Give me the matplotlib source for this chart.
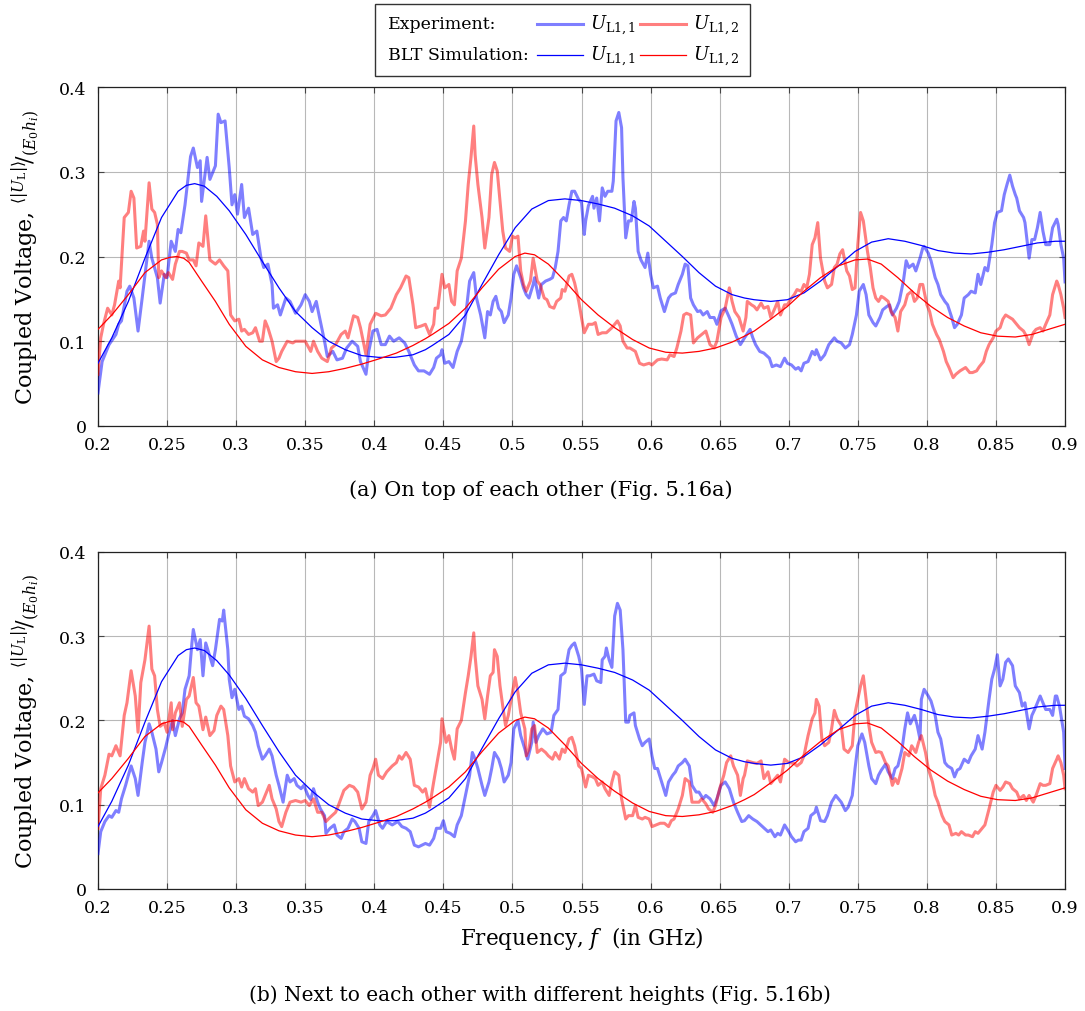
import numpy as np
import matplotlib
matplotlib.use("Agg")
import matplotlib.pyplot as plt
from matplotlib.lines import Line2D
from matplotlib.patches import Rectangle

plt.rcParams['font.family'] = ['DejaVu Serif']
plt.rcParams['mathtext.fontset'] = 'dejavuserif'

# ---- data (frequency in GHz, normalised voltage) ----
# (a) experiment U_L1,1 (blue)
top_exp1 = [
    (0.200, 0.039), (0.203, 0.076), (0.208, 0.096), (0.213, 0.108), (0.215, 0.120), (0.217, 0.124),
    (0.221, 0.159), (0.223, 0.165), (0.226, 0.151), (0.229, 0.112), (0.232, 0.151), (0.237, 0.218),
    (0.239, 0.198), (0.243, 0.175), (0.245, 0.145), (0.248, 0.179), (0.250, 0.175), (0.253, 0.218),
    (0.256, 0.206), (0.258, 0.232), (0.260, 0.228), (0.263, 0.261), (0.267, 0.318), (0.269, 0.328),
    (0.272, 0.305), (0.274, 0.313), (0.275, 0.265), (0.279, 0.317), (0.281, 0.291), (0.285, 0.307),
    (0.287, 0.368), (0.289, 0.358), (0.292, 0.360), (0.295, 0.305), (0.297, 0.261), (0.299, 0.273),
    (0.301, 0.250), (0.304, 0.285), (0.306, 0.246), (0.309, 0.257), (0.312, 0.226), (0.315, 0.230),
    (0.318, 0.198), (0.320, 0.187), (0.323, 0.191), (0.326, 0.167), (0.327, 0.139), (0.330, 0.143),
    (0.332, 0.131), (0.336, 0.151), (0.339, 0.147), (0.343, 0.133), (0.347, 0.143), (0.350, 0.155),
    (0.353, 0.147), (0.355, 0.135), (0.358, 0.147), (0.360, 0.131), (0.364, 0.100), (0.366, 0.082),
    (0.370, 0.088), (0.373, 0.078), (0.377, 0.080), (0.380, 0.092), (0.384, 0.100), (0.388, 0.094),
    (0.390, 0.076), (0.394, 0.061), (0.396, 0.088), (0.399, 0.112), (0.402, 0.114), (0.405, 0.096),
    (0.408, 0.096), (0.411, 0.106), (0.414, 0.100), (0.418, 0.104), (0.422, 0.098), (0.425, 0.088),
    (0.429, 0.072), (0.432, 0.065), (0.436, 0.065),
    (0.440, 0.061), (0.443, 0.069), (0.445, 0.080), (0.448, 0.084), (0.449, 0.090), (0.451, 0.074),
    (0.454, 0.076), (0.457, 0.069), (0.460, 0.088), (0.463, 0.100), (0.466, 0.128), (0.469, 0.171),
    (0.472, 0.181), (0.474, 0.151), (0.477, 0.131), (0.480, 0.104), (0.482, 0.135), (0.484, 0.131),
    (0.486, 0.147), (0.488, 0.153), (0.490, 0.139), (0.492, 0.135), (0.494, 0.122), (0.497, 0.131),
    (0.499, 0.151), (0.501, 0.179), (0.503, 0.189), (0.506, 0.175), (0.508, 0.163), (0.510, 0.155),
    (0.512, 0.151), (0.515, 0.167), (0.516, 0.175), (0.519, 0.151), (0.521, 0.167), (0.524, 0.171),
    (0.527, 0.173), (0.529, 0.175), (0.531, 0.187), (0.533, 0.206), (0.535, 0.242), (0.537, 0.246),
    (0.539, 0.242), (0.541, 0.261), (0.543, 0.277), (0.545, 0.277), (0.548, 0.267), (0.550, 0.264),
    (0.552, 0.226), (0.553, 0.242), (0.555, 0.260), (0.558, 0.271), (0.559, 0.257), (0.561, 0.269),
    (0.563, 0.242), (0.565, 0.281), (0.567, 0.271), (0.569, 0.277), (0.572, 0.277), (0.573, 0.289),
    (0.575, 0.360), (0.577, 0.370), (0.579, 0.352), (0.580, 0.293), (0.582, 0.222), (0.584, 0.242),
    (0.586, 0.242), (0.588, 0.265), (0.589, 0.257), (0.591, 0.206), (0.593, 0.196), (0.596, 0.187),
    (0.598, 0.204), (0.600, 0.179), (0.602, 0.163), (0.605, 0.165), (0.607, 0.151), (0.610, 0.135),
    (0.613, 0.151), (0.615, 0.155), (0.618, 0.157), (0.620, 0.167), (0.623, 0.179), (0.625, 0.191),
    (0.627, 0.189), (0.629, 0.151), (0.631, 0.143), (0.634, 0.135), (0.636, 0.136), (0.638, 0.131),
    (0.641, 0.135), (0.643, 0.128), (0.646, 0.128), (0.648, 0.120), (0.651, 0.136), (0.654, 0.139),
    (0.657, 0.128), (0.659, 0.120), (0.662, 0.106), (0.665, 0.096), (0.668, 0.104),
    (0.672, 0.114), (0.674, 0.104), (0.676, 0.096), (0.679, 0.088), (0.682, 0.086), (0.686, 0.080),
    (0.688, 0.070), (0.691, 0.072), (0.694, 0.070), (0.697, 0.080), (0.699, 0.074), (0.702, 0.072),
    (0.705, 0.067), (0.707, 0.069), (0.709, 0.065), (0.711, 0.074), (0.714, 0.076), (0.717, 0.088),
    (0.719, 0.084), (0.720, 0.090), (0.723, 0.078), (0.726, 0.084), (0.729, 0.096), (0.733, 0.104),
    (0.735, 0.100), (0.738, 0.098), (0.741, 0.092), (0.744, 0.096), (0.746, 0.108), (0.749, 0.131),
    (0.751, 0.159), (0.754, 0.167), (0.756, 0.155), (0.758, 0.131), (0.761, 0.122), (0.763, 0.118),
    (0.766, 0.128), (0.768, 0.137), (0.771, 0.141), (0.773, 0.143), (0.775, 0.131), (0.778, 0.139),
    (0.780, 0.147), (0.783, 0.171), (0.785, 0.195), (0.787, 0.187), (0.790, 0.191), (0.792, 0.183),
    (0.795, 0.198), (0.797, 0.210), (0.798, 0.212), (0.801, 0.204), (0.803, 0.195), (0.806, 0.175),
    (0.808, 0.167), (0.810, 0.155), (0.813, 0.147), (0.815, 0.143), (0.818, 0.128), (0.820, 0.116),
    (0.822, 0.120), (0.825, 0.131), (0.827, 0.151), (0.830, 0.155), (0.832, 0.159), (0.835, 0.157),
    (0.837, 0.179), (0.839, 0.167), (0.842, 0.187), (0.844, 0.183), (0.847, 0.214), (0.849, 0.240),
    (0.851, 0.252), (0.854, 0.254), (0.856, 0.273), (0.858, 0.285), (0.860, 0.296), (0.862, 0.283),
    (0.864, 0.273), (0.865, 0.269), (0.867, 0.254), (0.870, 0.246), (0.871, 0.240), (0.874, 0.198),
    (0.876, 0.220), (0.878, 0.220), (0.880, 0.234), (0.882, 0.252), (0.884, 0.230), (0.886, 0.214),
    (0.889, 0.214), (0.891, 0.234), (0.894, 0.244), (0.895, 0.238), (0.897, 0.214), (0.899, 0.198),
    (0.900, 0.170),
]

# (a) experiment U_L1,2 (red)
top_exp2 = [
    (0.200, 0.061), (0.202, 0.104), (0.204, 0.120), (0.207, 0.139), (0.210, 0.131), (0.212, 0.143),
    (0.215, 0.171), (0.216, 0.163), (0.219, 0.246), (0.222, 0.252), (0.224, 0.277), (0.226, 0.269),
    (0.228, 0.210), (0.231, 0.212), (0.233, 0.230), (0.234, 0.218), (0.237, 0.287), (0.239, 0.256),
    (0.241, 0.252), (0.243, 0.238), (0.244, 0.175), (0.246, 0.183), (0.249, 0.175), (0.251, 0.181),
    (0.254, 0.173), (0.256, 0.191), (0.259, 0.206), (0.261, 0.206), (0.264, 0.204), (0.266, 0.196),
    (0.269, 0.196), (0.271, 0.189), (0.273, 0.216), (0.276, 0.212), (0.278, 0.248), (0.281, 0.196),
    (0.285, 0.191), (0.288, 0.196), (0.291, 0.189), (0.294, 0.183), (0.296, 0.131), (0.299, 0.124),
    (0.302, 0.126), (0.304, 0.112), (0.306, 0.114), (0.309, 0.108), (0.312, 0.110), (0.314, 0.116),
    (0.317, 0.100), (0.319, 0.100), (0.321, 0.124), (0.323, 0.116), (0.326, 0.100), (0.329, 0.076),
    (0.331, 0.080), (0.333, 0.088), (0.337, 0.100), (0.341, 0.098), (0.343, 0.100), (0.347, 0.100),
    (0.350, 0.100), (0.354, 0.088), (0.356, 0.100), (0.359, 0.088), (0.362, 0.080), (0.366, 0.076),
    (0.369, 0.092), (0.372, 0.096), (0.376, 0.108), (0.379, 0.112), (0.381, 0.104), (0.385, 0.130),
    (0.388, 0.128), (0.390, 0.116), (0.394, 0.084), (0.397, 0.120), (0.401, 0.133), (0.405, 0.130),
    (0.408, 0.131), (0.412, 0.139), (0.416, 0.155), (0.419, 0.163), (0.423, 0.177), (0.425, 0.175),
    (0.428, 0.143), (0.430, 0.116), (0.434, 0.118), (0.437, 0.120),
    (0.440, 0.108), (0.443, 0.120), (0.444, 0.139), (0.446, 0.139), (0.449, 0.179), (0.451, 0.163),
    (0.454, 0.167), (0.456, 0.147), (0.458, 0.143), (0.460, 0.183), (0.463, 0.198), (0.466, 0.242),
    (0.468, 0.285), (0.470, 0.317), (0.472, 0.354), (0.473, 0.320), (0.475, 0.285), (0.478, 0.246),
    (0.480, 0.210), (0.483, 0.246), (0.485, 0.297), (0.487, 0.311), (0.489, 0.301), (0.491, 0.265),
    (0.493, 0.230), (0.495, 0.210), (0.498, 0.206), (0.500, 0.224), (0.502, 0.222), (0.504, 0.224),
    (0.506, 0.183), (0.508, 0.167), (0.510, 0.159), (0.513, 0.171), (0.515, 0.198), (0.518, 0.171),
    (0.520, 0.167), (0.523, 0.151), (0.525, 0.149), (0.527, 0.141), (0.530, 0.139), (0.532, 0.147),
    (0.535, 0.151), (0.536, 0.161), (0.538, 0.159), (0.541, 0.177), (0.543, 0.179), (0.545, 0.169),
    (0.548, 0.147), (0.550, 0.128), (0.552, 0.110), (0.555, 0.120), (0.558, 0.120), (0.560, 0.122),
    (0.562, 0.108), (0.565, 0.110), (0.568, 0.110), (0.572, 0.116), (0.576, 0.124), (0.578, 0.118),
    (0.580, 0.100), (0.583, 0.092), (0.585, 0.092), (0.589, 0.088), (0.592, 0.074), (0.595, 0.072),
    (0.599, 0.074), (0.601, 0.072), (0.605, 0.078), (0.608, 0.079), (0.612, 0.078), (0.614, 0.084),
    (0.617, 0.082), (0.619, 0.092), (0.622, 0.112), (0.624, 0.131), (0.626, 0.133), (0.629, 0.131),
    (0.631, 0.098), (0.634, 0.104), (0.637, 0.108), (0.640, 0.112), (0.643, 0.096), (0.646, 0.092),
    (0.648, 0.100), (0.651, 0.128), (0.654, 0.139), (0.657, 0.163), (0.659, 0.147), (0.661, 0.135),
    (0.664, 0.128), (0.667, 0.112), (0.669, 0.128),
    (0.670, 0.147), (0.673, 0.143), (0.675, 0.141), (0.677, 0.137), (0.680, 0.145), (0.682, 0.139),
    (0.685, 0.141), (0.687, 0.128), (0.690, 0.139), (0.692, 0.147), (0.694, 0.131), (0.697, 0.143),
    (0.699, 0.143), (0.702, 0.151), (0.704, 0.155), (0.706, 0.161), (0.709, 0.159), (0.711, 0.167),
    (0.713, 0.163), (0.715, 0.179), (0.717, 0.214), (0.719, 0.222), (0.721, 0.240), (0.723, 0.198),
    (0.726, 0.171), (0.728, 0.163), (0.731, 0.167), (0.733, 0.187), (0.735, 0.191), (0.737, 0.203),
    (0.739, 0.208), (0.742, 0.183), (0.744, 0.177), (0.746, 0.161), (0.748, 0.163), (0.750, 0.214),
    (0.752, 0.252), (0.754, 0.242), (0.757, 0.206), (0.759, 0.187), (0.761, 0.163), (0.763, 0.151),
    (0.765, 0.147), (0.767, 0.153), (0.769, 0.151), (0.772, 0.147), (0.774, 0.135), (0.777, 0.128),
    (0.779, 0.112), (0.781, 0.135), (0.784, 0.143), (0.786, 0.155), (0.789, 0.159), (0.791, 0.147),
    (0.793, 0.151), (0.795, 0.167), (0.797, 0.167), (0.800, 0.143), (0.802, 0.135), (0.804, 0.120),
    (0.807, 0.108), (0.809, 0.102), (0.812, 0.088), (0.814, 0.076), (0.816, 0.069), (0.819, 0.057),
    (0.821, 0.061), (0.824, 0.065), (0.826, 0.067), (0.828, 0.069), (0.831, 0.063), (0.833, 0.063),
    (0.836, 0.065), (0.838, 0.070), (0.841, 0.076), (0.843, 0.088), (0.845, 0.096), (0.848, 0.104),
    (0.850, 0.112), (0.853, 0.116), (0.855, 0.126), (0.857, 0.131), (0.860, 0.128), (0.862, 0.126),
    (0.865, 0.120), (0.867, 0.116), (0.870, 0.112), (0.872, 0.106), (0.874, 0.096), (0.877, 0.110),
    (0.879, 0.114), (0.882, 0.116), (0.884, 0.112), (0.886, 0.120), (0.889, 0.131), (0.891, 0.155),
    (0.894, 0.171), (0.895, 0.167), (0.897, 0.155), (0.899, 0.139), (0.900, 0.128),
]

# (b) experiment U_L1,1 (blue)
bot_exp1 = [
    (0.200, 0.042), (0.202, 0.068), (0.205, 0.080), (0.208, 0.087), (0.210, 0.085), (0.213, 0.093),
    (0.215, 0.091), (0.217, 0.107), (0.220, 0.123), (0.222, 0.135), (0.224, 0.146), (0.227, 0.131),
    (0.229, 0.111), (0.232, 0.150), (0.234, 0.174), (0.237, 0.196), (0.239, 0.186), (0.242, 0.166),
    (0.244, 0.139), (0.246, 0.150), (0.249, 0.168), (0.251, 0.182), (0.254, 0.200), (0.256, 0.182),
    (0.259, 0.202), (0.261, 0.209), (0.263, 0.237), (0.266, 0.253), (0.268, 0.292), (0.269, 0.308),
    (0.272, 0.284), (0.274, 0.296), (0.276, 0.253), (0.278, 0.292), (0.281, 0.276), (0.283, 0.265),
    (0.285, 0.284), (0.288, 0.320), (0.290, 0.318), (0.291, 0.331), (0.294, 0.284), (0.295, 0.249),
    (0.297, 0.227), (0.299, 0.237), (0.302, 0.213), (0.304, 0.217), (0.306, 0.205), (0.309, 0.202),
    (0.312, 0.194), (0.314, 0.186), (0.316, 0.170), (0.319, 0.154), (0.321, 0.158), (0.324, 0.166),
    (0.326, 0.158), (0.329, 0.135), (0.331, 0.123), (0.334, 0.103), (0.337, 0.135), (0.339, 0.127),
    (0.342, 0.131), (0.344, 0.123), (0.347, 0.119), (0.349, 0.123), (0.352, 0.111), (0.354, 0.106),
    (0.356, 0.119), (0.359, 0.103), (0.361, 0.095), (0.364, 0.087), (0.365, 0.066), (0.368, 0.072),
    (0.371, 0.076), (0.373, 0.064), (0.376, 0.060), (0.378, 0.068), (0.381, 0.072), (0.384, 0.083),
    (0.386, 0.080), (0.389, 0.072), (0.391, 0.056), (0.394, 0.054), (0.396, 0.080), (0.399, 0.087),
    (0.401, 0.093), (0.404, 0.076), (0.406, 0.072), (0.409, 0.080), (0.413, 0.076), (0.417, 0.080),
    (0.420, 0.074), (0.423, 0.072), (0.426, 0.068), (0.429, 0.052), (0.432, 0.050), (0.437, 0.054),
    (0.440, 0.052), (0.443, 0.060), (0.445, 0.072), (0.448, 0.072), (0.450, 0.081), (0.452, 0.068),
    (0.455, 0.066), (0.458, 0.062), (0.460, 0.076), (0.463, 0.087), (0.466, 0.111), (0.469, 0.135),
    (0.471, 0.162), (0.473, 0.154), (0.475, 0.143), (0.478, 0.123), (0.480, 0.111), (0.483, 0.127),
    (0.485, 0.143), (0.487, 0.162), (0.490, 0.154), (0.492, 0.143), (0.494, 0.127), (0.497, 0.135),
    (0.499, 0.150), (0.501, 0.190), (0.504, 0.200), (0.506, 0.182), (0.509, 0.166), (0.511, 0.154),
    (0.514, 0.174), (0.515, 0.198), (0.517, 0.174), (0.519, 0.182), (0.522, 0.190), (0.525, 0.184),
    (0.528, 0.186), (0.530, 0.206), (0.533, 0.213), (0.535, 0.253), (0.538, 0.257), (0.541, 0.284),
    (0.543, 0.289), (0.545, 0.292), (0.548, 0.276), (0.550, 0.261), (0.552, 0.219), (0.554, 0.253),
    (0.556, 0.253), (0.559, 0.255), (0.561, 0.247), (0.564, 0.245), (0.565, 0.272), (0.567, 0.276),
    (0.568, 0.286), (0.570, 0.272), (0.572, 0.263), (0.574, 0.324), (0.576, 0.339), (0.578, 0.331),
    (0.580, 0.284), (0.582, 0.198), (0.584, 0.198), (0.585, 0.206), (0.588, 0.209), (0.589, 0.194),
    (0.592, 0.178), (0.594, 0.170), (0.596, 0.174), (0.599, 0.178), (0.601, 0.158), (0.603, 0.143),
    (0.605, 0.143), (0.608, 0.127), (0.611, 0.111), (0.613, 0.127), (0.616, 0.135), (0.618, 0.139),
    (0.620, 0.146), (0.623, 0.150), (0.625, 0.154), (0.628, 0.146), (0.630, 0.123), (0.633, 0.115),
    (0.635, 0.115), (0.638, 0.107), (0.640, 0.111), (0.643, 0.107), (0.646, 0.099), (0.648, 0.107),
    (0.651, 0.123), (0.654, 0.127), (0.657, 0.119), (0.660, 0.103), (0.663, 0.091), (0.666, 0.080),
    (0.668, 0.081), (0.671, 0.087), (0.674, 0.083), (0.677, 0.080), (0.681, 0.074), (0.685, 0.068),
    (0.687, 0.070), (0.690, 0.062), (0.692, 0.066), (0.694, 0.064), (0.697, 0.076), (0.700, 0.068),
    (0.702, 0.062), (0.705, 0.056), (0.707, 0.058), (0.709, 0.058), (0.711, 0.068), (0.714, 0.072),
    (0.716, 0.087), (0.719, 0.091), (0.720, 0.097), (0.723, 0.081), (0.726, 0.080), (0.728, 0.087),
    (0.731, 0.103), (0.734, 0.111), (0.735, 0.109), (0.738, 0.103), (0.741, 0.093), (0.743, 0.097),
    (0.746, 0.111), (0.748, 0.143), (0.750, 0.170), (0.753, 0.184), (0.755, 0.174), (0.758, 0.146),
    (0.760, 0.131), (0.763, 0.125), (0.765, 0.135), (0.767, 0.141), (0.770, 0.148), (0.772, 0.139),
    (0.775, 0.131), (0.777, 0.143), (0.779, 0.146), (0.782, 0.166), (0.784, 0.190), (0.786, 0.209),
    (0.788, 0.196), (0.791, 0.206), (0.793, 0.194), (0.795, 0.178), (0.796, 0.225), (0.798, 0.237),
    (0.801, 0.229), (0.803, 0.223), (0.806, 0.206), (0.808, 0.186), (0.810, 0.178), (0.813, 0.150),
    (0.815, 0.146), (0.818, 0.143), (0.820, 0.133), (0.822, 0.141), (0.824, 0.143), (0.827, 0.154),
    (0.830, 0.150), (0.832, 0.158), (0.835, 0.166), (0.837, 0.182), (0.840, 0.166), (0.842, 0.186),
    (0.845, 0.225), (0.847, 0.249), (0.849, 0.261), (0.851, 0.278), (0.853, 0.241), (0.855, 0.249),
    (0.857, 0.269), (0.859, 0.273), (0.862, 0.265), (0.864, 0.241), (0.867, 0.233), (0.869, 0.217),
    (0.871, 0.221), (0.874, 0.190), (0.876, 0.206), (0.878, 0.213), (0.882, 0.229), (0.884, 0.221),
    (0.886, 0.213), (0.889, 0.213), (0.891, 0.206), (0.893, 0.229), (0.894, 0.229), (0.896, 0.217),
    (0.899, 0.186), (0.900, 0.143),
]

# (b) experiment U_L1,2 (red)
bot_exp2 = [
    (0.200, 0.072), (0.202, 0.119), (0.205, 0.135), (0.208, 0.160), (0.210, 0.158), (0.213, 0.170),
    (0.216, 0.158), (0.219, 0.206), (0.221, 0.221), (0.224, 0.259), (0.227, 0.229), (0.229, 0.186),
    (0.231, 0.245), (0.234, 0.272), (0.237, 0.312), (0.239, 0.261), (0.241, 0.253), (0.243, 0.213),
    (0.245, 0.193), (0.248, 0.197), (0.250, 0.186), (0.253, 0.221), (0.254, 0.189), (0.256, 0.209),
    (0.259, 0.221), (0.261, 0.193), (0.264, 0.225), (0.266, 0.229), (0.269, 0.251), (0.271, 0.221),
    (0.273, 0.217), (0.276, 0.189), (0.278, 0.204), (0.281, 0.182), (0.284, 0.188), (0.286, 0.206),
    (0.289, 0.217), (0.291, 0.213), (0.294, 0.182), (0.296, 0.146), (0.299, 0.127), (0.302, 0.131),
    (0.304, 0.121), (0.306, 0.131), (0.309, 0.119), (0.312, 0.115), (0.314, 0.119), (0.316, 0.099),
    (0.319, 0.103), (0.321, 0.111), (0.324, 0.123), (0.326, 0.107), (0.329, 0.095), (0.331, 0.080),
    (0.333, 0.074), (0.336, 0.091), (0.339, 0.103), (0.343, 0.105), (0.347, 0.103), (0.350, 0.105),
    (0.353, 0.099), (0.356, 0.107), (0.359, 0.091), (0.362, 0.091), (0.365, 0.080), (0.368, 0.085),
    (0.372, 0.091), (0.374, 0.099), (0.378, 0.117), (0.382, 0.123), (0.385, 0.121), (0.388, 0.115),
    (0.391, 0.095), (0.394, 0.103), (0.397, 0.135), (0.399, 0.143), (0.401, 0.154), (0.403, 0.135),
    (0.406, 0.131), (0.409, 0.139), (0.413, 0.146), (0.416, 0.150), (0.418, 0.158), (0.420, 0.154),
    (0.423, 0.162), (0.426, 0.154), (0.429, 0.123), (0.432, 0.121), (0.435, 0.115), (0.437, 0.119),
    (0.440, 0.097), (0.443, 0.127), (0.445, 0.146), (0.448, 0.174), (0.449, 0.202), (0.452, 0.174),
    (0.454, 0.182), (0.456, 0.166), (0.458, 0.154), (0.460, 0.190), (0.463, 0.200), (0.466, 0.233),
    (0.468, 0.253), (0.470, 0.276), (0.472, 0.304), (0.473, 0.276), (0.475, 0.241), (0.478, 0.225),
    (0.480, 0.202), (0.482, 0.229), (0.484, 0.253), (0.486, 0.257), (0.487, 0.284), (0.489, 0.276),
    (0.491, 0.241), (0.493, 0.217), (0.495, 0.194), (0.497, 0.206), (0.500, 0.233), (0.502, 0.251),
    (0.504, 0.233), (0.506, 0.209), (0.509, 0.190), (0.510, 0.158), (0.512, 0.166), (0.514, 0.190),
    (0.516, 0.194), (0.518, 0.162), (0.521, 0.166), (0.524, 0.162), (0.526, 0.158), (0.529, 0.154),
    (0.531, 0.162), (0.534, 0.154), (0.536, 0.166), (0.538, 0.162), (0.541, 0.178), (0.543, 0.180),
    (0.545, 0.170), (0.548, 0.146), (0.550, 0.143), (0.553, 0.121), (0.555, 0.135), (0.558, 0.133),
    (0.560, 0.131), (0.562, 0.123), (0.565, 0.127), (0.567, 0.119), (0.570, 0.111), (0.572, 0.127),
    (0.574, 0.139), (0.577, 0.135), (0.579, 0.107), (0.582, 0.083), (0.584, 0.087), (0.587, 0.087),
    (0.589, 0.099), (0.591, 0.085), (0.594, 0.083), (0.596, 0.085), (0.599, 0.083), (0.601, 0.074),
    (0.604, 0.076), (0.607, 0.078), (0.610, 0.078), (0.613, 0.074), (0.615, 0.081), (0.617, 0.083),
    (0.620, 0.095), (0.623, 0.111), (0.625, 0.131), (0.628, 0.127), (0.630, 0.103), (0.632, 0.103),
    (0.635, 0.103), (0.637, 0.107), (0.640, 0.101), (0.642, 0.095), (0.645, 0.091), (0.647, 0.099),
    (0.650, 0.119), (0.653, 0.135), (0.655, 0.150), (0.658, 0.158), (0.660, 0.146), (0.663, 0.135),
    (0.665, 0.111), (0.667, 0.131),
    (0.668, 0.135), (0.670, 0.152), (0.674, 0.150), (0.677, 0.149), (0.680, 0.152), (0.682, 0.131),
    (0.685, 0.139), (0.687, 0.125), (0.690, 0.131), (0.692, 0.135), (0.694, 0.127), (0.697, 0.154),
    (0.700, 0.150), (0.704, 0.149), (0.706, 0.146), (0.709, 0.150), (0.711, 0.158), (0.714, 0.182),
    (0.717, 0.202), (0.719, 0.209), (0.720, 0.225), (0.722, 0.217), (0.724, 0.178), (0.726, 0.170),
    (0.729, 0.174), (0.731, 0.190), (0.733, 0.212), (0.735, 0.202), (0.738, 0.194), (0.740, 0.166),
    (0.743, 0.162), (0.746, 0.170), (0.748, 0.209), (0.750, 0.225), (0.752, 0.241), (0.754, 0.253),
    (0.756, 0.225), (0.758, 0.194), (0.760, 0.174), (0.763, 0.162), (0.765, 0.163), (0.767, 0.162),
    (0.770, 0.150), (0.772, 0.146), (0.775, 0.123), (0.777, 0.131), (0.779, 0.125), (0.782, 0.143),
    (0.784, 0.162), (0.787, 0.158), (0.789, 0.170), (0.792, 0.162), (0.794, 0.174), (0.796, 0.182),
    (0.799, 0.162), (0.801, 0.143), (0.804, 0.127), (0.806, 0.111), (0.808, 0.103), (0.811, 0.087),
    (0.813, 0.080), (0.816, 0.076), (0.818, 0.064), (0.821, 0.066), (0.823, 0.064), (0.825, 0.068),
    (0.828, 0.064), (0.830, 0.064), (0.833, 0.062), (0.835, 0.068), (0.837, 0.066), (0.840, 0.072),
    (0.842, 0.076), (0.845, 0.095), (0.848, 0.115), (0.850, 0.123), (0.853, 0.117), (0.855, 0.121),
    (0.857, 0.127), (0.860, 0.125), (0.862, 0.119), (0.865, 0.115), (0.867, 0.107), (0.870, 0.111),
    (0.872, 0.105), (0.874, 0.111), (0.877, 0.103), (0.879, 0.111), (0.882, 0.125), (0.884, 0.123),
    (0.886, 0.123), (0.889, 0.125), (0.891, 0.143), (0.894, 0.154), (0.895, 0.158), (0.897, 0.150),
    (0.899, 0.135), (0.900, 0.119),
]

# BLT simulation (same in both panels)
sim1 = [
    (0.200, 0.074), (0.210, 0.104), (0.222, 0.147), (0.234, 0.198), (0.246, 0.246), (0.258, 0.277),
    (0.264, 0.284), (0.270, 0.286), (0.277, 0.283), (0.286, 0.271), (0.295, 0.254), (0.307, 0.226),
    (0.319, 0.194), (0.331, 0.163), (0.343, 0.135), (0.355, 0.116), (0.367, 0.100), (0.379, 0.090),
    (0.391, 0.083), (0.403, 0.081), (0.415, 0.081), (0.428, 0.084), (0.437, 0.090), (0.442, 0.095),
    (0.454, 0.108), (0.466, 0.131), (0.478, 0.167), (0.490, 0.202), (0.502, 0.234), (0.514, 0.256),
    (0.526, 0.266), (0.538, 0.268), (0.550, 0.266), (0.562, 0.262), (0.574, 0.257), (0.587, 0.248),
    (0.599, 0.236), (0.611, 0.218), (0.623, 0.200), (0.635, 0.181), (0.647, 0.165), (0.659, 0.155),
    (0.668, 0.151), (0.675, 0.149), (0.687, 0.147), (0.699, 0.149), (0.711, 0.157), (0.723, 0.171),
    (0.736, 0.189), (0.748, 0.206), (0.760, 0.217), (0.772, 0.221), (0.784, 0.218), (0.796, 0.213),
    (0.808, 0.207), (0.820, 0.204), (0.832, 0.203), (0.844, 0.205), (0.856, 0.208), (0.868, 0.212),
    (0.880, 0.216), (0.893, 0.218), (0.900, 0.218),
]
sim2 = [
    (0.200, 0.114), (0.210, 0.131), (0.222, 0.155), (0.234, 0.181), (0.246, 0.196), (0.252, 0.199),
    (0.257, 0.200), (0.262, 0.198), (0.266, 0.193), (0.275, 0.171), (0.285, 0.147), (0.295, 0.120),
    (0.307, 0.094), (0.319, 0.078), (0.331, 0.069), (0.343, 0.064), (0.355, 0.062), (0.367, 0.064),
    (0.379, 0.068), (0.391, 0.073), (0.403, 0.079), (0.416, 0.086), (0.428, 0.095), (0.437, 0.103),
    (0.442, 0.108), (0.454, 0.121), (0.466, 0.139), (0.478, 0.163), (0.490, 0.185), (0.502, 0.200),
    (0.509, 0.204), (0.516, 0.202), (0.526, 0.191), (0.538, 0.171), (0.550, 0.149), (0.562, 0.131),
    (0.574, 0.116), (0.587, 0.102), (0.599, 0.092), (0.611, 0.087), (0.623, 0.086), (0.635, 0.088),
    (0.647, 0.092), (0.659, 0.099), (0.668, 0.106), (0.675, 0.112), (0.687, 0.126), (0.699, 0.141),
    (0.711, 0.159), (0.723, 0.175), (0.736, 0.189), (0.748, 0.196), (0.757, 0.197), (0.767, 0.191),
    (0.779, 0.175), (0.791, 0.157), (0.803, 0.141), (0.815, 0.128), (0.827, 0.118), (0.839, 0.110),
    (0.851, 0.106), (0.864, 0.105), (0.876, 0.108), (0.888, 0.114), (0.900, 0.120),
]

freq_ticks = [0.2, 0.25, 0.3, 0.35, 0.4, 0.45, 0.5, 0.55, 0.6, 0.65, 0.7, 0.75, 0.8, 0.85, 0.9]
freq_labels = ['0.2', '0.25', '0.3', '0.35', '0.4', '0.45', '0.5', '0.55', '0.6',
               '0.65', '0.7', '0.75', '0.8', '0.85', '0.9']
volt_ticks = [0, 0.1, 0.2, 0.3, 0.4]
volt_labels = ['0', '0.1', '0.2', '0.3', '0.4']

captions = ['(a) On top of each other (Fig. 5.16a)',
            '(b) Next to each other with different heights (Fig. 5.16b)']

ylabel = r'Coupled Voltage, $^{\langle|U_{\mathrm{L}}|\rangle}\!/_{(E_0 h_i)}$'
lab1 = r'$U_{\mathrm{L1,1}}$'
lab2 = r'$U_{\mathrm{L1,2}}$'

fig = plt.figure(figsize=(10.85, 10.12), dpi=100)
ax_a = fig.add_axes([0.0903, 0.5781, 0.8913, 0.3349])
ax_b = fig.add_axes([0.0903, 0.1206, 0.8913, 0.3330])


def draw_panel(ax, exp1, exp2):
    e1 = np.array(exp1)
    e2 = np.array(exp2)
    s1 = np.array(sim1)
    s2 = np.array(sim2)
    ax.plot(e1[:, 0], e1[:, 1], color='blue', alpha=0.5, lw=2.2, zorder=3)
    ax.plot(e2[:, 0], e2[:, 1], color='red', alpha=0.5, lw=2.2, zorder=3)
    ax.plot(s1[:, 0], s1[:, 1], color='blue', lw=0.9, zorder=4)
    ax.plot(s2[:, 0], s2[:, 1], color='red', lw=0.9, zorder=4)
    ax.set_xlim(0.2, 0.9)
    ax.set_ylim(0, 0.4)
    ax.set_xticks(freq_ticks, freq_labels)
    ax.set_yticks(volt_ticks, volt_labels)
    ax.grid(True, color='#b8b8b8', lw=0.8, zorder=0)
    ax.tick_params(direction='in', top=True, right=True, length=4, width=0.8,
                   labelsize=12.5, color='#444444')
    ax.tick_params(axis='x', pad=7)
    ax.tick_params(axis='y', pad=8)
    for sp in ax.spines.values():
        sp.set_color('#222222')
        sp.set_linewidth(0.9)
    ax.set_ylabel(ylabel, fontsize=16)
    ax.yaxis.set_label_coords(-0.058, 0.5)


draw_panel(ax_a, top_exp1, top_exp2)
draw_panel(ax_b, bot_exp1, bot_exp2)

ax_b.set_xlabel(r'Frequency, $f$  (in GHz)', fontsize=15.5, labelpad=6)

fig.text(0.498, 0.516, captions[0], ha='center', va='center', fontsize=15)
fig.text(0.498, 0.0168, captions[1], ha='center', va='center', fontsize=14.5)

# legend box (drawn like the pgfplots legend above the top panel)
fig.add_artist(Rectangle((0.3456, 0.9239), 0.3456, 0.0711, transform=fig.transFigure,
                         facecolor='white', edgecolor='#333333', lw=1.0))
rows = [(0.9753, 'Experiment:', 2.2, 0.5), (0.9447, 'BLT Simulation:', 0.9, 1.0)]
for y, txt, lw, a in rows:
    fig.text(0.3576, y, txt, ha='left', va='center', fontsize=12.5)
    fig.add_artist(Line2D([0.4949, 0.5373], [y, y], transform=fig.transFigure,
                          color='blue', lw=lw, alpha=a))
    fig.text(0.5438, y, lab1, ha='left', va='center', fontsize=13)
    fig.add_artist(Line2D([0.5899, 0.6323], [y, y], transform=fig.transFigure,
                          color='red', lw=lw, alpha=a))
    fig.text(0.6387, y, lab2, ha='left', va='center', fontsize=13)

fig.savefig('out.png', dpi=100)
